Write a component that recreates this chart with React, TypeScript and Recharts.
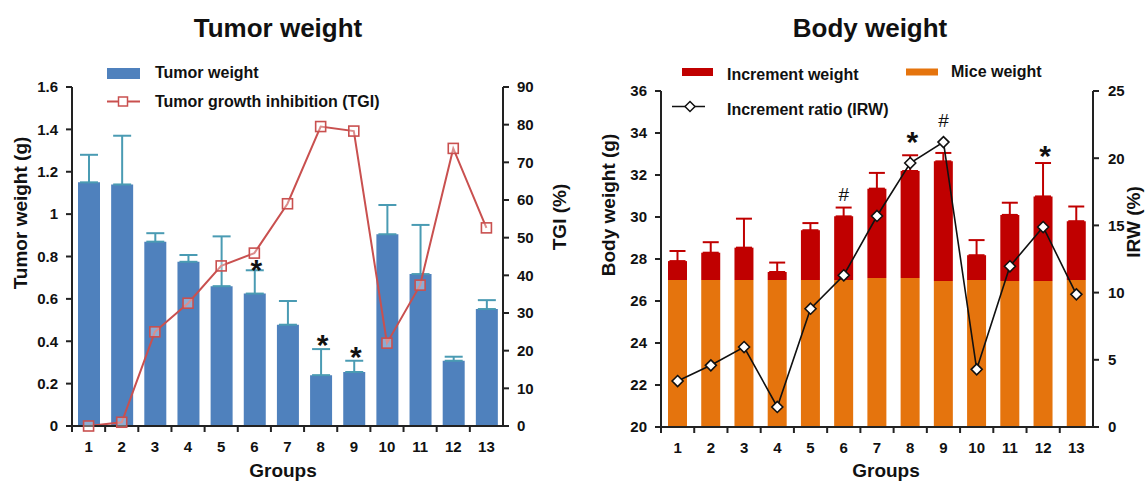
import React from "react"
import {
  ComposedChart,
  Bar,
  Line,
  XAxis,
  YAxis,
  ErrorBar,
  LabelList,
  Legend,
} from "recharts"

// ---- data ----
const groups = ["1", "2", "3", "4", "5", "6", "7", "8", "9", "10", "11", "12", "13"]

const tumorWeight = [1.15, 1.14, 0.87, 0.775, 0.66, 0.625, 0.478, 0.24, 0.255, 0.905, 0.717, 0.308, 0.552]
const tumorErr = [0.13, 0.23, 0.04, 0.032, 0.235, 0.11, 0.112, 0.123, 0.053, 0.138, 0.232, 0.019, 0.042]
const tgi = [0, 1, 25, 32.6, 42.5, 45.9, 59, 79.5, 78.3, 22, 37.4, 73.7, 52.6]
const tumorMarks = ["", "", "", "", "", "*", "", "*", "*", "", "", "", ""]
const tumorMarkAt = [null, null, null, null, null, 0.77, null, 0.415, 0.36, null, null, null, null]

const miceWeight = [27.0, 27.0, 27.0, 27.0, 27.0, 27.0, 27.1, 27.1, 26.95, 27.0, 26.95, 26.95, 27.0]
const incrementWeight = [0.9, 1.3, 1.54, 0.38, 2.37, 3.03, 4.25, 5.09, 5.7, 1.18, 3.15, 4.03, 2.8]
const bodyErr = [0.48, 0.5, 1.38, 0.45, 0.34, 0.42, 0.75, 0.75, 0.4, 0.72, 0.58, 1.59, 0.7]
const irw = [3.42, 4.59, 5.95, 1.49, 8.8, 11.29, 15.7, 19.64, 21.2, 4.29, 11.96, 14.88, 9.87]
const bodyMarks = ["", "", "", "", "", "#", "", "*", "#", "", "", "*", ""]
const bodyMarkAt = [null, null, null, null, null, 31.08, null, 33.9, 34.6, null, null, 33.25, null]

const tumorTicks = [0, 0.2, 0.4, 0.6, 0.8, 1, 1.2, 1.4, 1.6]
const tgiTicks = [0, 10, 20, 30, 40, 50, 60, 70, 80, 90]
const bodyTicks = [20, 22, 24, 26, 28, 30, 32, 34, 36]
const irwTicks = [0, 5, 10, 15, 20, 25]

const tumorData = groups.map((g, i) => ({
  group: g,
  weight: tumorWeight[i],
  err: [0, tumorErr[i]],
  tgi: tgi[i],
  mark: tumorMarks[i],
  markAt: tumorMarkAt[i],
}))

const bodyData = groups.map((g, i) => ({
  group: g,
  mice: miceWeight[i],
  inc: incrementWeight[i],
  err: [0, bodyErr[i]],
  irw: irw[i],
  mark: bodyMarks[i],
  markAt: bodyMarkAt[i],
}))

const FONT = "'Liberation Sans', Arial, sans-serif"
const BLUE = "#4f81bd"
const TEAL = "#4a9bb3"
const RED_LINE = "#c9504f"
const DARK_RED = "#c00000"
const ORANGE = "#e5740d"
const AXIS = "#222"

const tickStyle = { fill: "#111", fontSize: 15, fontWeight: 700, fontFamily: FONT }

// category tick: label in the middle, tick mark on the band edge
function GroupTick(props: any) {
  const { x, y, payload } = props
  const half = payload && payload.offset ? payload.offset : 16.6
  const axisY = y - 14
  return (
    <g>
      <line x1={x - half} x2={x - half} y1={axisY} y2={axisY + 6} stroke={AXIS} strokeWidth={2} />
      <text x={x} y={y} dy={12} textAnchor="middle" {...tickStyle}>
        {payload.value}
      </text>
    </g>
  )
}

function SquareDot(props: any) {
  const { cx, cy } = props
  if (cx == null || cy == null) return null
  return <rect x={cx - 5} y={cy - 5} width={10} height={10} fill="#fff" fillOpacity={0.35} stroke={RED_LINE} strokeWidth={1.6} />
}

function DiamondDot(props: any) {
  const { cx, cy } = props
  if (cx == null || cy == null) return null
  return (
    <path
      d={`M${cx},${cy - 5.5} L${cx + 5.5},${cy} L${cx},${cy + 5.5} L${cx - 5.5},${cy} Z`}
      fill="#fff"
      stroke="#111"
      strokeWidth={1.6}
    />
  )
}

function markLabel(data: any[]) {
  return (props: any) => {
    const { x, y, index } = props
    const m = data[index] && data[index].mark
    if (!m || y == null) return null
    if (m === "*") {
      return (
        <text x={x + 2} y={y + 17} textAnchor="middle" fontSize={30} fontWeight={700} fontFamily={FONT} fill="#111">
          *
        </text>
      )
    }
    return (
      <text x={x} y={y + 7} textAnchor="middle" fontSize={19} fontFamily={FONT} fill="#111">
        {m}
      </text>
    )
  }
}

const legendText = { fontSize: 16, fontWeight: 700, fontFamily: FONT, fill: "#111" }

function TumorLegend() {
  return (
    <svg width={560} height={130} style={{ position: "absolute", left: 0, top: 0 }}>
      <rect x={107} y={68} width={33} height={11} fill={BLUE} />
      <text x={155} y={78} {...legendText}>Tumor weight</text>
      <line x1={107} x2={140} y1={101.5} y2={101.5} stroke={RED_LINE} strokeWidth={2} />
      <rect x={118.5} y={97} width={9} height={9} fill="#fff" stroke={RED_LINE} strokeWidth={1.5} />
      <text x={155} y={107} {...legendText}>Tumor growth inhibition (TGI)</text>
    </svg>
  )
}

function BodyLegend() {
  return (
    <svg width={557} height={130} style={{ position: "absolute", left: 0, top: 0 }}>
      <rect x={92} y={68} width={31} height={8} fill={DARK_RED} />
      <text x={137} y={80} {...legendText}>Increment weight</text>
      <rect x={316} y={68.5} width={32} height={7} fill={ORANGE} />
      <text x={361} y={77} {...legendText}>Mice weight</text>
      <line x1={82} x2={115} y1={106.5} y2={106.5} stroke="#111" strokeWidth={1.6} />
      <path d="M100,101.5 L105,106.5 L100,111.5 L95,106.5 Z" fill="#fff" stroke="#111" strokeWidth={1.5} />
      <text x={137} y={115} {...legendText}>Increment ratio (IRW)</text>
    </svg>
  )
}

const titleStyle = { fontSize: 26, fontWeight: 700, fontFamily: FONT, fill: "#111" }
const axisTitle = { fontSize: 19, fontWeight: 700, fontFamily: FONT, fill: "#111" }

export default function App() {
  return (
    <div style={{ position: "absolute", left: 0, top: 0, width: 1147, height: 482, background: "#fff" }}>
      {/* Tumor weight */}
      <div style={{ position: "absolute", left: 0, top: 0, width: 560, height: 482 }}>
        <ComposedChart width={560} height={482} data={tumorData} margin={{ top: 87, right: 0, bottom: 0, left: 0 }} barSize={22}>
          <XAxis
            dataKey="group"
            height={56}
            tickLine={false}
            tickSize={5}
            tickMargin={9}
            axisLine={{ stroke: AXIS, strokeWidth: 2 }}
            tick={<GroupTick />}
            interval={0}
          />
          <YAxis
            yAxisId="left"
            width={72}
            domain={[0, 1.6]}
            ticks={tumorTicks}
            tickSize={6}
            tickMargin={8}
            tick={tickStyle}
            axisLine={{ stroke: AXIS, strokeWidth: 2 }}
            tickLine={{ stroke: AXIS, strokeWidth: 2 }}
          />
          <YAxis
            yAxisId="right"
            orientation="right"
            width={57}
            domain={[0, 90]}
            ticks={tgiTicks}
            tickSize={6}
            tickMargin={8}
            tick={tickStyle}
            axisLine={{ stroke: AXIS, strokeWidth: 2 }}
            tickLine={{ stroke: AXIS, strokeWidth: 2 }}
          />
          <Bar yAxisId="left" dataKey="weight" fill={BLUE} isAnimationActive={false}>
            <ErrorBar dataKey="err" width={9} stroke={TEAL} strokeWidth={2} direction="y" />
          </Bar>
          <Line
            yAxisId="right"
            dataKey="tgi"
            type="linear"
            stroke={RED_LINE}
            strokeWidth={2}
            dot={<SquareDot />}
            activeDot={false}
            isAnimationActive={false}
          />
          <Line yAxisId="left" dataKey="markAt" stroke="none" dot={false} activeDot={false} legendType="none" isAnimationActive={false}>
            <LabelList dataKey="mark" content={markLabel(tumorData)} />
          </Line>
          <Legend layout="vertical" align="center" verticalAlign="middle" wrapperStyle={{ left: 0, top: 0, width: 560, height: 130 }} content={() => <TumorLegend />} />
        </ComposedChart>
        <svg width={590} height={482} style={{ position: "absolute", left: 0, top: 0, pointerEvents: "none", overflow: "visible" }}>
          <text x={278} y={37} textAnchor="middle" {...titleStyle}>Tumor weight</text>
          <text transform="translate(27,213) rotate(-90)" textAnchor="middle" {...axisTitle}>Tumor weight (g)</text>
          <text transform="translate(566,217) rotate(-90)" textAnchor="middle" {...axisTitle}>TGI (%)</text>
          <text x={283} y={477} textAnchor="middle" {...axisTitle}>Groups</text>
        </svg>
      </div>

      {/* Body weight */}
      <div style={{ position: "absolute", left: 590, top: 0, width: 557, height: 482 }}>
        <ComposedChart width={557} height={482} data={bodyData} margin={{ top: 91, right: 0, bottom: 0, left: 0 }} barSize={19}>
          <XAxis
            dataKey="group"
            height={55}
            tickLine={false}
            tickSize={5}
            tickMargin={9}
            axisLine={{ stroke: AXIS, strokeWidth: 2 }}
            tick={<GroupTick />}
            interval={0}
          />
          <YAxis
            yAxisId="left"
            width={71}
            domain={[20, 36]}
            allowDataOverflow
            ticks={bodyTicks}
            tickSize={6}
            tickMargin={8}
            tick={tickStyle}
            axisLine={{ stroke: AXIS, strokeWidth: 2 }}
            tickLine={{ stroke: AXIS, strokeWidth: 2 }}
          />
          <YAxis
            yAxisId="right"
            orientation="right"
            width={54}
            domain={[0, 25]}
            ticks={irwTicks}
            tickSize={6}
            tickMargin={9}
            tick={tickStyle}
            axisLine={{ stroke: AXIS, strokeWidth: 2 }}
            tickLine={{ stroke: AXIS, strokeWidth: 2 }}
          />
          <Bar yAxisId="left" dataKey="mice" stackId="w" fill={ORANGE} isAnimationActive={false} />
          <Bar yAxisId="left" dataKey="inc" stackId="w" fill={DARK_RED} isAnimationActive={false}>
            <ErrorBar dataKey="err" width={8} stroke={DARK_RED} strokeWidth={2} direction="y" />
          </Bar>
          <Line
            yAxisId="right"
            dataKey="irw"
            type="linear"
            stroke="#111"
            strokeWidth={1.6}
            dot={<DiamondDot />}
            activeDot={false}
            isAnimationActive={false}
          />
          <Line yAxisId="left" dataKey="markAt" stroke="none" dot={false} activeDot={false} legendType="none" isAnimationActive={false}>
            <LabelList dataKey="mark" content={markLabel(bodyData)} />
          </Line>
          <Legend layout="vertical" align="center" verticalAlign="middle" wrapperStyle={{ left: 0, top: 0, width: 557, height: 130 }} content={() => <BodyLegend />} />
        </ComposedChart>
        <svg width={557} height={482} style={{ position: "absolute", left: 0, top: 0, pointerEvents: "none" }}>
          <text x={280} y={37} textAnchor="middle" {...titleStyle}>Body weight</text>
          <text transform="translate(25,205) rotate(-90)" textAnchor="middle" {...axisTitle}>Body weight (g)</text>
          <text transform="translate(550,222) rotate(-90)" textAnchor="middle" {...axisTitle}>IRW (%)</text>
          <text x={296} y={477} textAnchor="middle" {...axisTitle}>Groups</text>
        </svg>
      </div>
    </div>
  )
}
